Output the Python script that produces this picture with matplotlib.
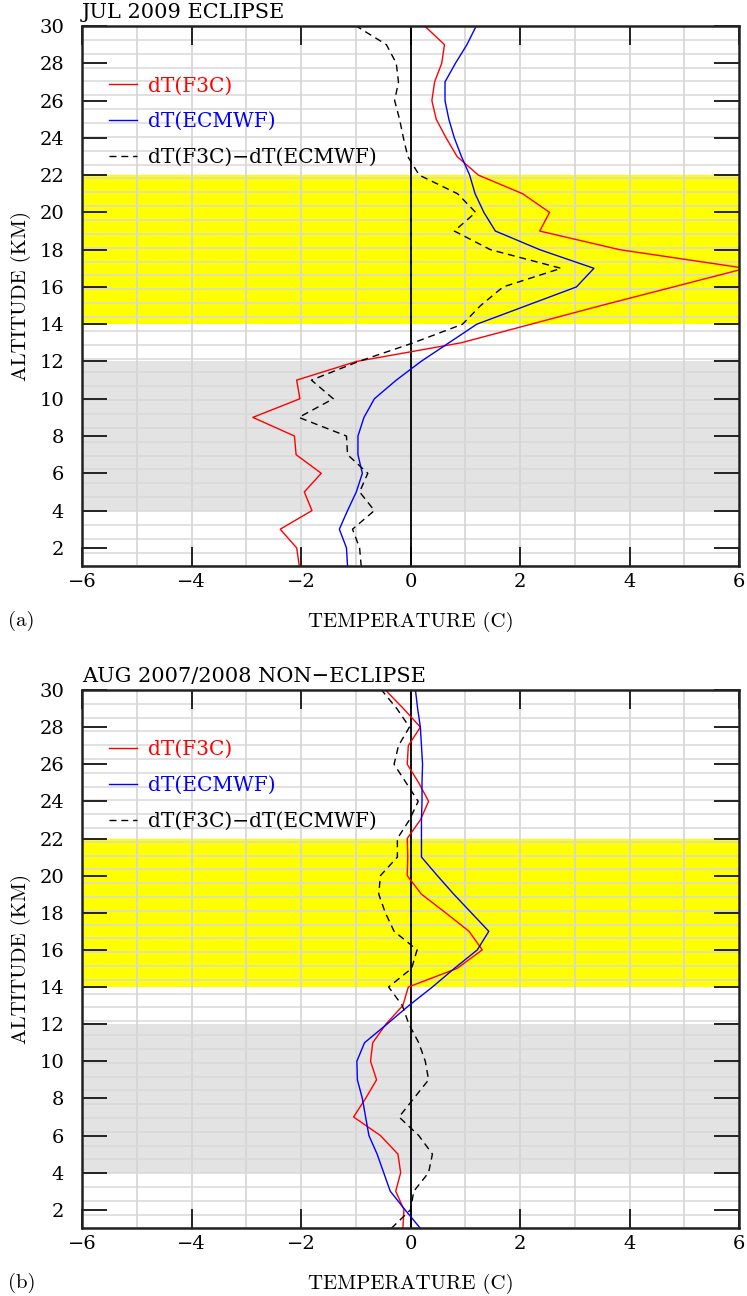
import matplotlib
matplotlib.use("Agg")
import matplotlib.pyplot as plt
import numpy as np

# altitude levels (km)
alt = np.arange(1, 31)

# JUL 2009 eclipse
eclipse_f3c = [-2.03, -2.08, -2.38, -1.80, -1.94, -1.63, -2.09, -2.12, -2.88, -2.02,
               -2.08, -0.99, 0.92, 2.20, 3.48, 4.80, 6.12, 3.82, 2.36, 2.54,
               2.05, 1.24, 0.85, 0.65, 0.47, 0.39, 0.44, 0.57, 0.62, 0.26]
eclipse_ecmwf = [-1.15, -1.17, -1.30, -1.15, -0.99, -0.88, -0.96, -0.96, -0.85, -0.66,
                 -0.26, 0.19, 0.70, 1.21, 2.12, 3.03, 3.35, 2.36, 1.55, 1.34,
                 1.18, 1.08, 0.93, 0.80, 0.70, 0.63, 0.63, 0.82, 1.03, 1.20]
eclipse_diff = [-0.90, -0.93, -1.06, -0.66, -0.93, -0.78, -1.15, -1.17, -2.04, -1.41,
                -1.81, -0.95, 0.05, 0.95, 1.28, 1.69, 2.75, 1.46, 0.80, 1.19,
                0.86, 0.16, -0.05, -0.13, -0.20, -0.29, -0.22, -0.26, -0.44, -0.99]

# AUG 2007/2008 non-eclipse
non_f3c = [-0.14, -0.12, -0.27, -0.18, -0.23, -0.55, -1.04, -0.82, -0.62, -0.73,
           -0.69, -0.45, -0.14, -0.04, 0.85, 1.31, 1.07, 0.64, 0.20, -0.06,
           -0.05, -0.06, 0.18, 0.33, 0.15, -0.06, -0.04, 0.18, -0.13, -0.46]
non_ecmwf = [0.18, -0.10, -0.37, -0.49, -0.61, -0.76, -0.82, -0.88, -0.97, -0.98,
             -0.84, -0.43, -0.03, 0.40, 0.80, 1.22, 1.43, 1.11, 0.79, 0.49,
             0.20, 0.20, 0.20, 0.21, 0.21, 0.22, 0.20, 0.18, 0.13, 0.09]
non_diff = [-0.35, 0.00, 0.06, 0.33, 0.40, 0.15, -0.21, 0.06, 0.33, 0.27,
            0.15, -0.03, -0.15, -0.40, 0.02, 0.12, -0.30, -0.46, -0.58, -0.55,
            -0.24, -0.24, -0.02, 0.14, -0.08, -0.30, -0.22, -0.02, -0.25, -0.53]

titles = ['JUL 2009 ECLIPSE', 'AUG 2007/2008 NON\u2212ECLIPSE']
panel_tags = ['(a)', '(b)']
labels = ['dT(F3C)', 'dT(ECMWF)', 'dT(F3C)\u2212dT(ECMWF)']

tick_font = 'DejaVu Serif'
cm_font = 'cmr10'


def draw_panel(ax, f3c, ecmwf, diff, title, tag):
    ax.set_xlim(-6, 6)
    ax.set_ylim(1, 30)

    # shaded layers
    ax.axhspan(4, 12, color='#e3e3e3', lw=0, zorder=0)
    ax.axhspan(14, 22, color='#ffff00', lw=0, zorder=0)

    # grid
    for gx in range(-5, 6):
        ax.axvline(gx, color='#d4d4d4', lw=1.2, zorder=1)
    for gy in np.linspace(1, 30, 40):
        ax.axhline(gy, color='#d8d8d8', lw=1.1, zorder=1)
    ax.axvline(0, color='black', lw=1.3, zorder=3)

    ax.plot(f3c, alt, color='#ff0000', lw=1.0, label=labels[0], zorder=4)
    ax.plot(ecmwf, alt, color='#0000ff', lw=1.0, label=labels[1], zorder=4)
    ax.plot(diff, alt, color='black', lw=1.0, dashes=(5, 3.5), label=labels[2], zorder=4)

    ax.set_xticks(range(-6, 7, 2))
    ax.set_yticks(range(2, 31, 2))
    ax.set_xticklabels([str(v).replace('-', '\u2212') for v in range(-6, 7, 2)],
                       fontfamily=tick_font, fontsize=14)
    ax.set_yticklabels([str(v) for v in range(2, 31, 2)],
                       fontfamily=tick_font, fontsize=14)
    ax.tick_params(axis='x', direction='in', length=14, width=1.4, top=True, pad=5,
                   colors='#222222', labelcolor='black')
    ax.tick_params(axis='y', direction='in', length=18, width=1.4, right=True, pad=13,
                   colors='#222222', labelcolor='black')
    for sp in ax.spines.values():
        sp.set_linewidth(1.8)
        sp.set_color('#222222')
        sp.set_zorder(5)

    ax.set_title(title, loc='left', fontfamily=tick_font, fontsize=15, pad=6)
    ax.set_xlabel('TEMPERATURE (C)', fontfamily=cm_font, fontsize=15, labelpad=15)
    ax.set_ylabel('ALTITUDE (KM)', fontfamily=cm_font, fontsize=15, labelpad=6)
    ax.text(-0.113, -0.101, tag, transform=ax.transAxes, fontfamily=cm_font,
            fontsize=15, va='center', ha='left')

    leg = ax.legend(loc='upper left', bbox_to_anchor=(0.041, 0.907), frameon=False,
                    prop={'family': tick_font, 'size': 14.5}, handlelength=1.4,
                    handletextpad=0.55, labelspacing=0.84, borderaxespad=0,
                    borderpad=0, labelcolor='linecolor')
    leg.set_zorder(6)


fig = plt.figure(figsize=(7.47, 12.96), dpi=100)
ax1 = fig.add_axes([0.1098, 0.5629, 0.8795, 0.4170])
ax2 = fig.add_axes([0.1098, 0.0522, 0.8795, 0.4154])

draw_panel(ax1, eclipse_f3c, eclipse_ecmwf, eclipse_diff, titles[0], panel_tags[0])
draw_panel(ax2, non_f3c, non_ecmwf, non_diff, titles[1], panel_tags[1])

fig.savefig('out.png', dpi=100)
